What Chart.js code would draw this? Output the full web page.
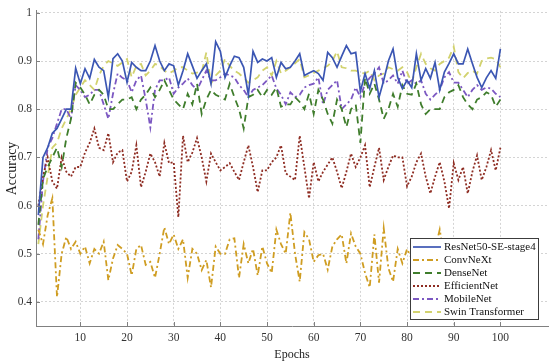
<!DOCTYPE html>
<html>
<head>
<meta charset="utf-8">
<script src="https://cdn.jsdelivr.net/npm/chart.js@4.4.1/dist/chart.umd.min.js"></script>
<style>
  html, body { margin: 0; padding: 0; background: #fff; }
</style>
</head>
<body>
<canvas id="accChart" width="550" height="362"></canvas>
<script>
const epochs = Array.from({ length: 100 }, (_, i) => i + 1);
const xTicks = [10, 20, 30, 40, 50, 60, 70, 80, 90, 100];
const yTicks = [0.4, 0.5, 0.6, 0.7, 0.8, 0.9, 1];

const resnet = [
  0.58, 0.70, 0.72, 0.75, 0.76, 0.78, 0.80, 0.80, 0.885, 0.853,
  0.884, 0.864, 0.903, 0.887, 0.880, 0.825, 0.905, 0.915, 0.900, 0.856,
  0.897, 0.887, 0.880, 0.880, 0.900, 0.932, 0.900, 0.880, 0.894, 0.890,
  0.850, 0.880, 0.915, 0.890, 0.864, 0.880, 0.894, 0.853, 0.940, 0.920,
  0.866, 0.890, 0.910, 0.907, 0.887, 0.830, 0.920, 0.897, 0.904, 0.900,
  0.907, 0.866, 0.897, 0.884, 0.887, 0.900, 0.915, 0.870, 0.875, 0.880,
  0.874, 0.860, 0.918, 0.907, 0.887, 0.910, 0.932, 0.915, 0.918, 0.837,
  0.874, 0.843, 0.880, 0.825, 0.860, 0.900, 0.925, 0.866, 0.843, 0.860,
  0.845, 0.915, 0.860, 0.884, 0.864, 0.897, 0.840, 0.877, 0.895, 0.915,
  0.894, 0.894, 0.925, 0.895, 0.866, 0.845, 0.865, 0.880, 0.864, 0.925
];
const convnext = [
  0.55, 0.52, 0.58, 0.615, 0.41, 0.50, 0.535, 0.51, 0.525, 0.50,
  0.515, 0.48, 0.51, 0.50, 0.525, 0.445, 0.49, 0.518, 0.51, 0.50,
  0.455, 0.51, 0.518, 0.477, 0.483, 0.45, 0.50, 0.555, 0.52, 0.54,
  0.51, 0.53, 0.45, 0.51, 0.50, 0.466, 0.487, 0.43, 0.515, 0.50,
  0.50, 0.53, 0.532, 0.45, 0.52, 0.48, 0.51, 0.455, 0.515, 0.48,
  0.46, 0.55, 0.52, 0.50, 0.585, 0.50, 0.442, 0.545, 0.53, 0.483,
  0.497, 0.50, 0.467, 0.515, 0.53, 0.54, 0.48, 0.542, 0.515, 0.50,
  0.46, 0.43, 0.54, 0.44, 0.553, 0.47, 0.442, 0.51, 0.48, 0.51,
  0.49, 0.52, 0.47, 0.50, 0.48, 0.51, 0.55, 0.49, 0.50, 0.47,
  0.51, 0.49, 0.52, 0.48, 0.50, 0.47, 0.51, 0.50, 0.48, 0.52
];
const densenet = [
  0.56, 0.655, 0.68, 0.70, 0.72, 0.68, 0.74, 0.78, 0.855, 0.845,
  0.83, 0.81, 0.83, 0.84, 0.83, 0.80, 0.80, 0.81, 0.82, 0.82,
  0.825, 0.80, 0.82, 0.83, 0.845, 0.825, 0.84, 0.86, 0.84, 0.82,
  0.81, 0.80, 0.832, 0.81, 0.853, 0.79, 0.82, 0.84, 0.83, 0.825,
  0.82, 0.853, 0.825, 0.80, 0.76, 0.825, 0.83, 0.84, 0.825, 0.84,
  0.83, 0.845, 0.805, 0.81, 0.81, 0.825, 0.815, 0.80, 0.832, 0.79,
  0.84, 0.82, 0.79, 0.77, 0.82, 0.80, 0.763, 0.80, 0.81, 0.73,
  0.865, 0.832, 0.853, 0.82, 0.78, 0.80, 0.832, 0.805, 0.85, 0.832,
  0.83, 0.853, 0.81, 0.79, 0.80, 0.80, 0.80, 0.825, 0.835, 0.84,
  0.85, 0.825, 0.81, 0.80, 0.82, 0.825, 0.835, 0.83, 0.805, 0.82
];
const efficientnet = [
  0.60, 0.66, 0.70, 0.65, 0.635, 0.70, 0.67, 0.66, 0.68, 0.68,
  0.71, 0.73, 0.76, 0.72, 0.715, 0.75, 0.69, 0.71, 0.715, 0.65,
  0.67, 0.725, 0.638, 0.67, 0.708, 0.69, 0.66, 0.73, 0.688, 0.69,
  0.576, 0.745, 0.69, 0.71, 0.74, 0.70, 0.65, 0.708, 0.69, 0.673,
  0.68, 0.688, 0.67, 0.653, 0.69, 0.725, 0.68, 0.628, 0.673, 0.673,
  0.69, 0.70, 0.725, 0.667, 0.66, 0.653, 0.745, 0.68, 0.615, 0.69,
  0.65, 0.67, 0.685, 0.70, 0.67, 0.636, 0.67, 0.708, 0.68, 0.70,
  0.725, 0.638, 0.68, 0.72, 0.653, 0.68, 0.704, 0.70, 0.70, 0.64,
  0.66, 0.69, 0.708, 0.66, 0.625, 0.66, 0.69, 0.65, 0.594, 0.688,
  0.653, 0.68, 0.625, 0.67, 0.704, 0.653, 0.68, 0.715, 0.673, 0.72
];
const mobilenet = [
  0.53, 0.65, 0.72, 0.74, 0.77, 0.80, 0.80, 0.78, 0.85, 0.84,
  0.825, 0.83, 0.84, 0.84, 0.81, 0.78, 0.832, 0.874, 0.865, 0.86,
  0.835, 0.86, 0.87, 0.82, 0.762, 0.84, 0.86, 0.86, 0.866, 0.832,
  0.845, 0.853, 0.864, 0.85, 0.84, 0.86, 0.88, 0.86, 0.86, 0.866,
  0.874, 0.87, 0.866, 0.85, 0.84, 0.825, 0.84, 0.845, 0.85, 0.86,
  0.87, 0.843, 0.83, 0.81, 0.835, 0.825, 0.83, 0.845, 0.85, 0.853,
  0.866, 0.81, 0.84, 0.85, 0.86, 0.80, 0.81, 0.82, 0.845, 0.825,
  0.853, 0.865, 0.874, 0.887, 0.853, 0.86, 0.87, 0.853, 0.88, 0.853,
  0.86, 0.853, 0.86, 0.832, 0.82, 0.83, 0.84, 0.866, 0.877, 0.855,
  0.855, 0.84, 0.825, 0.84, 0.85, 0.84, 0.845, 0.843, 0.832, 0.825
];
const swin = [
  0.52, 0.60, 0.66, 0.72, 0.73, 0.76, 0.78, 0.80, 0.83, 0.845,
  0.86, 0.85, 0.84, 0.87, 0.89, 0.90, 0.895, 0.89, 0.897, 0.904,
  0.866, 0.89, 0.894, 0.87, 0.88, 0.894, 0.89, 0.88, 0.874, 0.88,
  0.887, 0.887, 0.88, 0.874, 0.876, 0.877, 0.918, 0.853, 0.87, 0.88,
  0.904, 0.89, 0.88, 0.874, 0.865, 0.855, 0.86, 0.866, 0.88, 0.887,
  0.87, 0.90, 0.874, 0.88, 0.887, 0.895, 0.904, 0.866, 0.87, 0.875,
  0.88, 0.885, 0.89, 0.90, 0.92, 0.887, 0.885, 0.88, 0.88, 0.876,
  0.874, 0.88, 0.86, 0.87, 0.874, 0.887, 0.883, 0.88, 0.887, 0.877,
  0.855, 0.887, 0.915, 0.894, 0.885, 0.88, 0.894, 0.90, 0.907, 0.93,
  0.877, 0.864, 0.875, 0.88, 0.874, 0.90, 0.905, 0.907, 0.904, 0.887
];

const serif = '"Liberation Serif", "Times New Roman", serif';

function toPoints(values) {
  return values.map((v, i) => ({ x: epochs[i], y: v }));
}

function series(label, values, color, dash, width) {
  return {
    label: label,
    data: toPoints(values),
    borderColor: color,
    backgroundColor: color,
    borderDash: dash,
    borderWidth: width,
    pointRadius: 0,
    tension: 0,
    fill: false
  };
}

// legend box drawn inside the plot, bottom right (MATLAB style)
const boxLegend = {
  id: 'boxLegend',
  afterDraw(chart) {
    const ctx = chart.ctx;
    const area = chart.chartArea;
    const w = 128, h = 81;
    const x0 = area.right - 10 - w;
    const y0 = area.bottom - 7 - h;
    ctx.save();
    ctx.fillStyle = '#ffffff';
    ctx.fillRect(x0, y0, w, h);
    ctx.strokeStyle = '#3c3c3c';
    ctx.lineWidth = 1;
    ctx.strokeRect(x0 + 0.5, y0 + 0.5, w, h);
    ctx.font = '11px ' + serif;
    ctx.textBaseline = 'middle';
    chart.data.datasets.forEach((ds, i) => {
      const y = y0 + 9 + i * 13;
      ctx.beginPath();
      ctx.setLineDash(ds.borderDash || []);
      ctx.strokeStyle = ds.borderColor;
      ctx.lineWidth = ds.borderWidth;
      ctx.moveTo(x0 + 3, y);
      ctx.lineTo(x0 + 31, y);
      ctx.stroke();
      ctx.setLineDash([]);
      ctx.fillStyle = '#111111';
      ctx.fillText(ds.label, x0 + 34, y + 0.5);
    });
    ctx.restore();
  }
};

// small inward tick marks on the left and bottom axes
const innerTicks = {
  id: 'innerTicks',
  afterDatasetsDraw(chart) {
    const ctx = chart.ctx;
    const area = chart.chartArea;
    const xs = chart.scales.x, ys = chart.scales.y;
    ctx.save();
    ctx.strokeStyle = '#808080';
    ctx.lineWidth = 1;
    ctx.beginPath();
    xTicks.forEach(v => {
      const px = Math.round(xs.getPixelForValue(v)) + 0.5;
      ctx.moveTo(px, area.bottom);
      ctx.lineTo(px, area.bottom - 4);
    });
    yTicks.forEach(v => {
      const py = Math.round(ys.getPixelForValue(v)) + 0.5;
      ctx.moveTo(area.left, py);
      ctx.lineTo(area.left + 4, py);
    });
    ctx.stroke();
    ctx.restore();
  }
};

const ctxAcc = document.getElementById('accChart').getContext('2d');

const accChart = new Chart(ctxAcc, {
  type: 'line',
  data: {
    datasets: [
      series('ResNet50-SE-stage4', resnet, '#3b56b3', [], 1.7),
      series('ConvNeXt', convnext, '#cf9d22', [6, 3, 2, 3], 1.8),
      series('DenseNet', densenet, '#3f7d2c', [7, 5], 1.8),
      series('EfficientNet', efficientnet, '#8e2c22', [2, 2], 1.8),
      series('MobileNet', mobilenet, '#7c58c2', [6, 3, 2, 3], 1.8),
      series('Swin Transformer', swin, '#d2d26e', [7, 5], 1.8)
    ]
  },
  options: {
    responsive: false,
    animation: false,
    layout: { padding: { top: 0, right: 2, left: 4, bottom: 0 } },
    plugins: {
      legend: { display: false },
      tooltip: { enabled: false }
    },
    scales: {
      x: {
        type: 'linear',
        min: 0.5,
        max: 110.2,
        afterBuildTicks: (scale) => { scale.ticks = xTicks.map(v => ({ value: v })); },
        afterFit: (scale) => { scale.height = 36; },
        grid: {
          color: '#d4d4d4',
          drawTicks: false
        },
        border: { display: true, color: '#808080', dash: [2, 2] },
        ticks: {
          padding: 5,
          color: '#333333',
          font: { family: serif, size: 11.5 },
          maxRotation: 0
        },
        title: {
          display: true,
          text: 'Epochs',
          color: '#222222',
          font: { family: serif, size: 12 },
          padding: { top: 0, bottom: 0 }
        }
      },
      y: {
        min: 0.35,
        max: 1.004,
        afterBuildTicks: (scale) => { scale.ticks = yTicks.map(v => ({ value: v })); },
        afterFit: (scale) => { scale.width = 32; },
        grid: {
          color: '#d4d4d4',
          drawTicks: false
        },
        border: { display: true, color: '#808080', dash: [2, 2] },
        ticks: {
          padding: 4,
          color: '#333333',
          font: { family: serif, size: 11.5 },
          callback: (v) => (v === 1 ? '1' : v.toFixed(1))
        },
        title: {
          display: true,
          text: 'Accuracy',
          color: '#222222',
          font: { family: serif, size: 14 },
          padding: { top: 0, bottom: 0 }
        }
      }
    }
  },
  plugins: [innerTicks, boxLegend]
});
</script>
</body>
</html>
